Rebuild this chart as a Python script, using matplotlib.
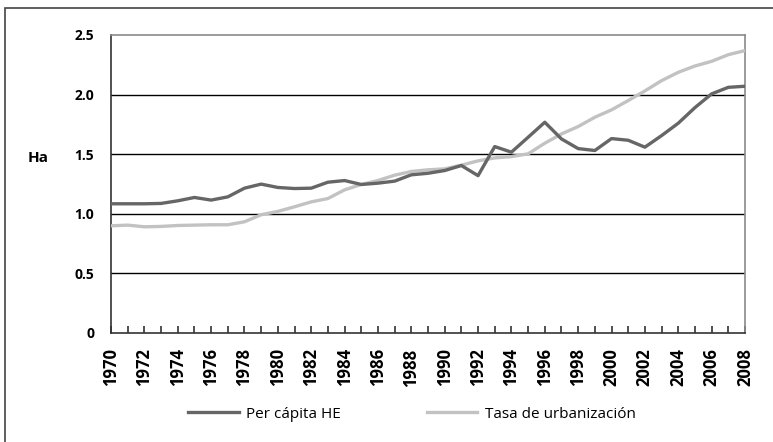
import matplotlib
matplotlib.use("Agg")
import matplotlib.pyplot as plt
from matplotlib.patches import Rectangle

years = list(range(1970, 2009))
per_capita_he = [1.084, 1.084, 1.084, 1.087, 1.109, 1.137, 1.115, 1.142, 1.215, 1.249,
                 1.221, 1.212, 1.215, 1.265, 1.279, 1.246, 1.257, 1.274, 1.327, 1.340,
                 1.363, 1.405, 1.320, 1.564, 1.517, 1.642, 1.768, 1.628, 1.547, 1.531,
                 1.631, 1.617, 1.559, 1.656, 1.760, 1.891, 2.006, 2.061, 2.070]
tasa_urbanizacion = [0.899, 0.905, 0.891, 0.894, 0.902, 0.905, 0.908, 0.908, 0.933, 0.992,
                     1.020, 1.059, 1.100, 1.128, 1.201, 1.246, 1.279, 1.324, 1.355, 1.369,
                     1.377, 1.408, 1.444, 1.469, 1.480, 1.503, 1.592, 1.670, 1.732, 1.810,
                     1.872, 1.950, 2.031, 2.117, 2.187, 2.240, 2.279, 2.335, 2.369]
y_ticks = [0, 0.5, 1.0, 1.5, 2.0, 2.5]
y_labels = ["0", "0.5", "1.0", "1.5", "2.0", "2.5"]

plt.rcParams['font.family'] = ['Open Sans', 'DejaVu Sans']

W, H = 773, 442
fig = plt.figure(figsize=(W / 100, H / 100), dpi=100)
ax = fig.add_axes([111 / W, 1 - 333 / H, (745 - 111) / W, (333 - 35) / H])

# outer frame (only left and top edges visible)
fig.patches.append(Rectangle((5 / W, -0.1), 1.2, 1 - 8 / H + 0.1, transform=fig.transFigure,
                             fill=False, edgecolor="#444444", linewidth=1.2))

for y in y_ticks[1:-1]:
    ax.axhline(y, color="black", linewidth=1.0, zorder=1)

ax.plot(years, tasa_urbanizacion, color="#c2c2c2", linewidth=2.4, label="Tasa de urbanización", zorder=3)
ax.plot(years, per_capita_he, color="#666666", linewidth=2.4, label="Per cápita HE", zorder=4)

ax.set_xlim(1970, 2008)
ax.set_ylim(0, 2.5)
ax.set_yticks(y_ticks)
ax.set_yticklabels(y_labels, fontweight="bold", fontsize=10)
ax.tick_params(axis="y", length=0, pad=12)
ax.set_xticks(years, minor=True)
ax.set_xticks(years[::2])
ax.set_xticklabels([str(y) for y in years[::2]], rotation=90, fontweight="bold", fontsize=12)
ax.tick_params(axis="x", which="both", direction="in", length=5, width=1.2, color="#333333", pad=11)

for side in ["left", "bottom"]:
    ax.spines[side].set_color("#333333")
    ax.spines[side].set_linewidth(1.2)
for side in ["top", "right"]:
    ax.spines[side].set_color("#8a8a8a")
    ax.spines[side].set_linewidth(1.2)

fig.text(38 / W, 1 - 158 / H, "Ha", fontweight="bold", fontsize=11, ha="center", va="center")

handles, labels = ax.get_legend_handles_labels()
fig.legend(handles[::-1], labels[::-1], loc="center", bbox_to_anchor=(412 / W, 1 - 414 / H),
           ncol=2, frameon=False, fontsize=11, handlelength=3.3, handletextpad=0.5,
           columnspacing=5.6)

fig.savefig("out.png", dpi=100)
